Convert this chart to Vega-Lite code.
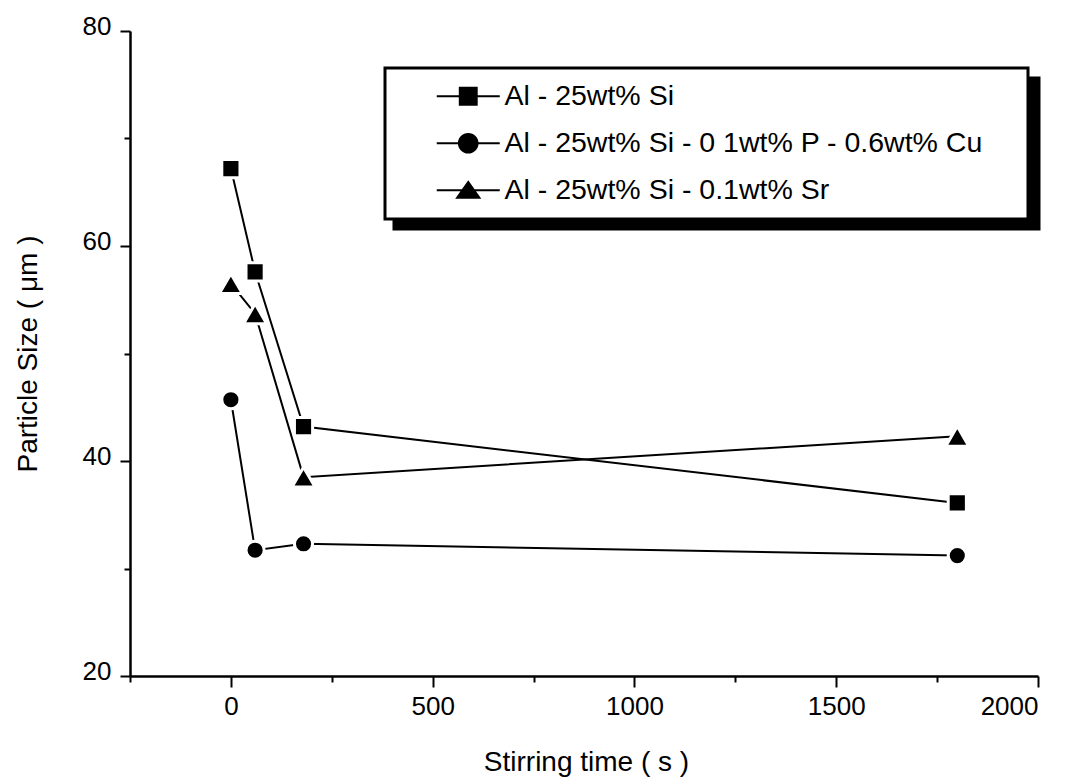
{
  "$schema": "https://vega.github.io/schema/vega-lite/v6.json",
  "width": 908,
  "height": 645,
  "autosize": {"type": "none"},
  "padding": {"left": 130, "top": 31, "right": 34, "bottom": 102},
  "background": "white",
  "config": {
    "view": {"stroke": null},
    "font": "Liberation Sans",
    "legend": {"strokeWidth": 3},
    "axis": {
      "domainColor": "black", "domainWidth": 2.5, "tickColor": "black", "tickWidth": 2,
      "labelColor": "black", "titleColor": "black", "labelFont": "Liberation Sans", "titleFont": "Liberation Sans",
      "labelFontSize": 26, "titleFontSize": 28, "titleFontWeight": "normal", "grid": false
    }
  },
  "data": {
    "values": [
      {"series": "Al - 25wt% Si", "time": 0, "size": 67.2},
      {"series": "Al - 25wt% Si", "time": 60, "size": 57.6},
      {"series": "Al - 25wt% Si", "time": 180, "size": 43.2},
      {"series": "Al - 25wt% Si", "time": 1800, "size": 36.1},
      {"series": "Al - 25wt% Si - 0 1wt% P - 0.6wt% Cu", "time": 0, "size": 45.7},
      {"series": "Al - 25wt% Si - 0 1wt% P - 0.6wt% Cu", "time": 60, "size": 31.7},
      {"series": "Al - 25wt% Si - 0 1wt% P - 0.6wt% Cu", "time": 180, "size": 32.3},
      {"series": "Al - 25wt% Si - 0 1wt% P - 0.6wt% Cu", "time": 1800, "size": 31.2},
      {"series": "Al - 25wt% Si - 0.1wt% Sr", "time": 0, "size": 56.5},
      {"series": "Al - 25wt% Si - 0.1wt% Sr", "time": 60, "size": 53.7},
      {"series": "Al - 25wt% Si - 0.1wt% Sr", "time": 180, "size": 38.5},
      {"series": "Al - 25wt% Si - 0.1wt% Sr", "time": 1800, "size": 42.3}
    ]
  },
  "resolve": {
    "scale": {"shape": "independent", "color": "independent"},
    "axis": {"x": "independent", "y": "independent"}
  },
  "layer": [
    {
      "mark": {"type": "line", "color": "black", "strokeWidth": 2},
      "encoding": {
        "x": {"field": "time", "type": "quantitative",
          "scale": {"domain": [-250, 2000], "nice": false, "zero": false},
          "axis": {"orient": "bottom", "values": [0, 500, 1000, 1500, 2000], "format": "d", "tickSize": 11, "labelPadding": 6,
            "title": "Stirring time ( s )", "titleBaseline": "alphabetic", "titleY": 94, "titleX": 456, "titleAnchor": "middle", "titleAlign": "center"}},
        "y": {"field": "size", "type": "quantitative",
          "scale": {"domain": [20, 80], "nice": false, "zero": false},
          "axis": {"orient": "left", "values": [20, 40, 60, 80], "tickSize": 10, "labelPadding": 9, "labelOffset": -5,
            "title": "Particle Size ( μm )", "titleAngle": -90, "titleBaseline": "alphabetic", "titleAlign": "center", "titleX": -94, "titleY": 322.5}},
        "detail": {"field": "series"}
      }
    },
    {
      "mark": {"type": "point", "filled": true, "color": "black", "stroke": "white", "strokeWidth": 3, "opacity": 1, "size": 330},
      "encoding": {
        "x": {"field": "time", "type": "quantitative",
          "axis": {"orient": "bottom", "values": [-250, 250, 750, 1250, 1750], "tickSize": 6, "labels": false, "domain": false, "title": null}},
        "y": {"field": "size", "type": "quantitative",
          "axis": {"orient": "left", "values": [30, 50, 70], "tickSize": 6, "labels": false, "domain": false, "title": null}},
        "shape": {"field": "series", "type": "nominal",
          "scale": {"domain": ["Al - 25wt% Si", "Al - 25wt% Si - 0 1wt% P - 0.6wt% Cu", "Al - 25wt% Si - 0.1wt% Sr"],
            "range": ["square", "circle", "M0,-1.1L1.27,1.1L-1.27,1.1Z"]},
          "legend": null}
      }
    },
    {
      "transform": [{"filter": "false"}],
      "mark": {"type": "point", "filled": true, "color": "black", "stroke": "black", "strokeWidth": 2},
      "encoding": {
        "x": {"field": "time", "type": "quantitative", "axis": null},
        "y": {"field": "size", "type": "quantitative", "axis": null},
        "shape": {"field": "series", "type": "nominal",
          "scale": {"domain": ["Al - 25wt% Si", "Al - 25wt% Si - 0 1wt% P - 0.6wt% Cu", "Al - 25wt% Si - 0.1wt% Sr"],
            "range": [
              "M-3.5,-0.12H3.5V0.12H-3.5ZM-1.05,-1.05H1.05V1.05H-1.05ZM60.5,0",
              "M-3.5,-0.12H3.5V0.12H-3.5ZM1.15,0A1.15,1.15,0,1,1,-1.15,0A1.15,1.15,0,1,1,1.15,0ZM60.5,0",
              "M-3.5,-0.12H3.5V0.12H-3.5ZM0,-1.1L1.45,0.95L-1.45,0.95ZM60.5,0"]},
          "legend": {"orient": "none", "legendX": 255, "legendY": 37, "title": null,
            "labelFontSize": 28.5, "labelFont": "Liberation Sans", "labelColor": "black", "labelLimit": 1000,
            "symbolSize": 324, "symbolOffset": 55, "labelOffset": 22, "padding": 14, "rowPadding": 18,
            "symbolOpacity": 1, "symbolFillColor": "black", "symbolStrokeColor": "black", "symbolStrokeWidth": 0.5,
            "fillColor": "white", "strokeColor": "black", "zindex": 2,
            "encode": {"symbols": {"update": {"fill": {"value": "black"}, "opacity": {"value": 1}}}}}}
      }
    },
    {
      "transform": [{"filter": "false"}],
      "mark": {"type": "point", "filled": true, "color": "black", "stroke": "black", "strokeWidth": 2, "shape": "M-3.5,-0.12H3.5V0.12H-3.5ZM-1.05,-1.05H1.05V1.05H-1.05ZM60.5,0"},
      "encoding": {
        "x": {"field": "time", "type": "quantitative", "axis": null},
        "y": {"field": "size", "type": "quantitative", "axis": null},
        "color": {"field": "series", "type": "nominal",
          "scale": {"domain": ["Al - 25wt% Si - 0.1wt% Sr", "Al - 25wt% Si - 0 1wt% P - 0.6wt% Cu", "Al - 25wt% Si"],
            "range": ["black", "black", "black"]},
          "legend": {"orient": "none", "legendX": 264, "legendY": 47, "title": null,
            "labelFontSize": 28.5, "labelFont": "Liberation Sans", "labelColor": "black", "labelLimit": 1000,
            "labelExpr": "''",
            "symbolSize": 324, "symbolOffset": 55, "labelOffset": 22, "padding": 14, "rowPadding": 18,
            "symbolOpacity": 1, "symbolType": "M-3.5,-0.12H3.5V0.12H-3.5ZM-1.05,-1.05H1.05V1.05H-1.05ZM60.5,0",
            "fillColor": "black", "strokeColor": "black", "zindex": 1}}
      }
    }
  ]
}
